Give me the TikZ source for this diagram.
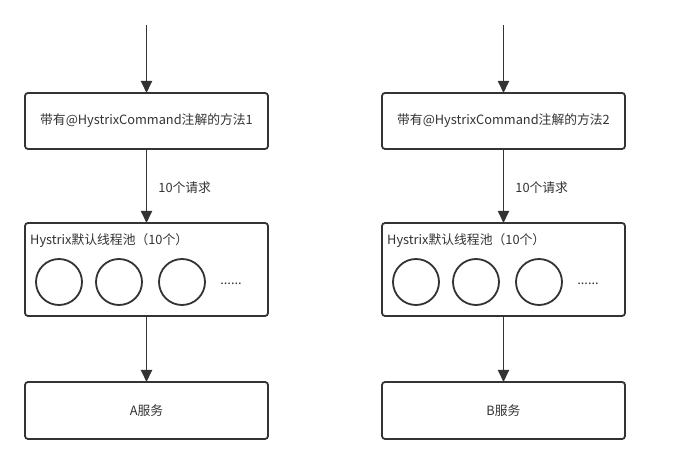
\documentclass[tikz,border=0pt]{standalone}
\usepackage{fontspec}
\setmainfont{Noto Sans CJK SC}
\usetikzlibrary{arrows.meta}
\definecolor{ink}{HTML}{333333}
\tikzset{
  box/.style={draw=ink, line width=1.8pt, rounded corners=3pt, fill=white},
  thread/.style={draw=ink, line width=1.8pt, circle, minimum size=46pt, inner sep=0pt},
  conn/.style={draw=ink, line width=1.8pt, -{Triangle[length=12pt,width=11pt]}},
  txt/.style={text=ink, font=\fontsize{12.8pt}{14pt}\selectfont, inner sep=0pt},
}
\begin{document}
\begin{tikzpicture}[x=1pt,y=-1pt]
\useasboundingbox[fill=white] (0,0) rectangle (673,465);
\foreach \dx/\n/\s in {0/1/A,357/2/B}{
  \begin{scope}[xshift=\dx pt]
  \coordinate (start\n) at (146.5,25);
  \draw[box] (25,93) rectangle (268,149);
  \node[txt] (m\n) at (146.5,121) {带有@HystrixCommand注解的方法\n};
  \coordinate (mt\n) at (146.5,93);
  \coordinate (mb\n) at (146.5,149);
  \draw[box] (25,223) rectangle (268,316);
  \coordinate (pt\n) at (146.5,223);
  \coordinate (pb\n) at (146.5,316);
  \node[txt, anchor=west] (pl\n) at (30,241) {Hystrix默认线程池（10个）};
  \node[thread] (c1\n) at (59,282) {};
  \node[thread] (c2\n) at (119,282) {};
  \node[thread] (c3\n) at (182,282) {};
  \node[txt] (d\n) at (231,284) {......};
  \draw[box] (25,382) rectangle (268,439);
  \coordinate (st\n) at (146.5,382);
  \node[txt] (s\n) at (146.5,411) {\s 服务};
  \draw[conn] (start\n) -- (mt\n);
  \draw[conn] (mb\n) -- node[txt, anchor=west, xshift=11pt, yshift=-2pt] (l\n) {10个请求} (pt\n);
  \draw[conn] (pb\n) -- (st\n);
  \end{scope}
}
\end{tikzpicture}
\end{document}
